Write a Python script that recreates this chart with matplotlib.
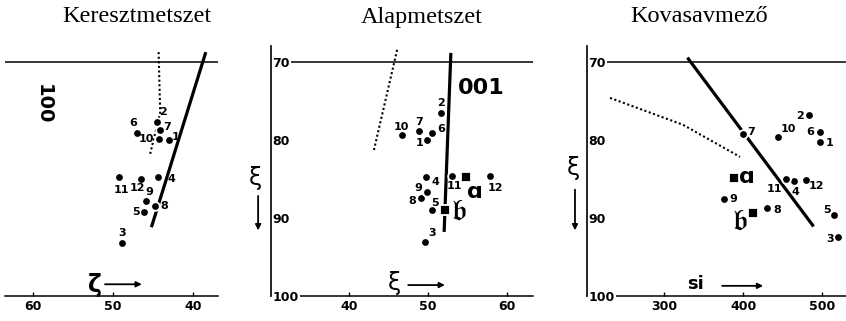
import matplotlib.pyplot as plt

# --- data --------------------------------------------------------------

# Keresztmetszet (zeta horizontal, xi vertical)
cross_labels = ['1', '2', '3', '4', '5', '6', '7', '8', '9', '10', '11', '12']
cross_zeta = [43.0, 44.5, 48.9, 44.4, 46.1, 47.0, 44.1, 44.8, 45.9, 44.3, 49.2, 46.5]
cross_xi = [80.1, 77.8, 93.2, 84.8, 89.3, 79.1, 78.8, 88.5, 87.9, 79.9, 84.8, 85.0]
cross_line_zeta = [38.4, 45.2]
cross_line_xi = [68.8, 91.2]
cross_dots_zeta = [44.3, 44.1, 45.4]
cross_dots_xi = [68.8, 76.5, 82.0]

# Alapmetszet (xi horizontal, xi vertical)
base_labels = ['1', '2', '3', '4', '5', '6', '7', '8', '9', '10', '11', '12']
base_x = [49.9, 51.6, 49.6, 49.75, 50.5, 50.5, 48.9, 49.1, 49.9, 46.75, 53.0, 57.9]
base_y = [80.1, 76.6, 93.1, 84.8, 89.0, 79.1, 78.85, 87.4, 86.7, 79.4, 84.7, 84.7]
base_sq_labels = ['a', 'b']
base_sq_x = [54.8, 52.1]
base_sq_y = [84.8, 89.0]
base_line_x = [52.9, 52.05]
base_line_y = [68.9, 91.8]
base_dots_x = [46.1, 43.1]
base_dots_y = [68.5, 81.6]

# Kovasavmező (si horizontal, xi vertical)
si_labels = ['1', '2', '3', '4', '5', '6', '7', '8', '9', '10', '11', '12']
si_x = [496.6, 482.7, 519.8, 463.7, 514.3, 497.5, 399.6, 430.0, 375.9, 443.9, 454.0, 479.3]
si_y = [80.3, 76.8, 92.5, 85.3, 89.6, 79.0, 79.3, 88.7, 87.6, 79.6, 85.0, 85.1]
si_sq_labels = ['a', 'b']
si_sq_x = [389.0, 412.3]
si_sq_y = [84.9, 89.4]
si_line_x = [329.5, 489.0]
si_line_y = [69.5, 91.1]
si_dots_x = [231.6, 324.0, 396.0]
si_dots_y = [74.65, 78.1, 82.2]

# --- layout ------------------------------------------------------------
W, H = 846, 321
Y_TOP_PX, Y_BOT_PX = 45.9, 296.0


def axes_at(fig, x0, x1):
    return fig.add_axes([x0 / W, 1 - Y_BOT_PX / H, (x1 - x0) / W, (Y_BOT_PX - Y_TOP_PX) / H])


# label offsets in pixels (dx, dy with dy positive = down)
cross_off = {'1': (7, -3), '2': (6, -10), '3': (0, -10), '4': (14, 2), '5': (-8, 0),
             '6': (-4, -10), '7': (7, -3), '8': (10, 0), '9': (4, -9), '10': (-12, 0),
             '11': (2, 13), '12': (-4, 9)}
base_off = {'1': (-8, 3), '2': (0, -10), '3': (7, -9), '4': (9, 5), '5': (3, -7),
            '6': (9, -4), '7': (0, -9), '8': (-9, 3), '9': (-9, -4), '10': (-1, -8),
            '11': (3, 10), '12': (5, 12), 'a': (9, 15), 'b': (14, 1)}
si_off = {'1': (10, 1), '2': (-9, 1), '3': (-8, 2), '4': (2, 11), '5': (-7, -5),
          '6': (-10, 0), '7': (8, -2), '8': (10, 2), '9': (9, 0), '10': (10, -8),
          '11': (-11, 10), '12': (11, 6), 'a': (12, -1), 'b': (-13, 8)}

NUM = dict(family='DejaVu Sans', fontweight='bold', fontsize=8)


def common(ax, xlim, xticks, left_axis):
    ax.set_xlim(*xlim)
    ax.set_ylim(100, 68)
    for s in ['top', 'right', 'bottom']:
        ax.spines[s].set_visible(False)
    ax.spines['left'].set_visible(left_axis)
    ax.spines['left'].set_linewidth(1.2)
    ax.axhline(70, color='black', lw=1.1, zorder=1)
    ax.axhline(100, color='black', lw=1.1, zorder=1, clip_on=False)
    ax.set_xticks(xticks)
    ax.tick_params(axis='x', direction='in', length=3, width=1, pad=3)
    for t in ax.get_xticklabels():
        t.set_fontweight('bold')
        t.set_fontsize(9)
    if left_axis:
        ax.set_yticks([70, 80, 90, 100])
        ax.tick_params(axis='y', length=0, pad=-1)
        for t in ax.get_yticklabels():
            t.set_ha('left')
            t.set_fontweight('bold')
            t.set_fontsize(9)
            t.set_bbox(dict(facecolor='white', edgecolor='none', pad=1))
    else:
        ax.set_yticks([])


def points(ax, xs, ys, labels, offsets, marker='o'):
    ax.plot(xs, ys, linestyle='none', marker=marker, ms=6.2 if marker == 'o' else 7,
            mfc='black', mec='white', mew=1.3, zorder=3)
    for x, y, lab in zip(xs, ys, labels):
        dx, dy = offsets[lab]
        if lab == 'a':
            ax.annotate('ɑ', (x, y), xytext=(dx, -dy), textcoords='offset pixels',
                        ha='center', va='center', fontsize=16, fontweight='bold',
                        family='DejaVu Sans', zorder=4)
        elif lab == 'b':
            ax.annotate(r'$\mathfrak{b}$', (x, y), xytext=(dx, -dy), textcoords='offset pixels',
                        ha='center', va='center', fontsize=21, math_fontfamily='stix', zorder=4)
        else:
            ax.annotate(lab, (x, y), xytext=(dx, -dy), textcoords='offset pixels',
                        ha='center', va='center', zorder=4, **NUM)


def arrow(ax, x0, y0, x1, y1):
    ax.annotate('', xy=(x1, y1), xytext=(x0, y0), annotation_clip=False,
                arrowprops=dict(arrowstyle='-|>', lw=1.3, color='black', mutation_scale=8,
                                shrinkA=0, shrinkB=0))


fig = plt.figure(figsize=(W / 100, H / 100), dpi=100)
fig.patch.set_facecolor('white')

# panel 1
ax1 = axes_at(fig, 5, 218)
common(ax1, (63.5, 36.875), [60, 50, 40], False)
ax1.plot(cross_line_zeta, cross_line_xi, color='black', lw=2.3, solid_capstyle='butt', zorder=2)
ax1.plot(cross_dots_zeta, cross_dots_xi, color='black', lw=1.5, linestyle=(0, (1, 1.2)), zorder=2)
points(ax1, cross_zeta, cross_xi, cross_labels, cross_off)
ax1.text(58.75, 75.4, '100', rotation=-90, ha='center', va='center',
         fontsize=14, fontweight='bold', family='DejaVu Sans')
ax1.text(52.25, 98.6, 'ζ', ha='center', va='center', fontsize=17, fontweight='bold')
arrow(ax1, 51.0, 98.5, 46.4, 98.5)

# panel 2
ax2 = axes_at(fig, 271, 533)
common(ax2, (30.13, 63.3), [40, 50, 60], True)
ax2.plot(base_line_x, base_line_y, color='black', lw=2.3, solid_capstyle='butt', zorder=2)
ax2.plot(base_dots_x, base_dots_y, color='black', lw=1.5, linestyle=(0, (1, 1.2)), zorder=2)
points(ax2, base_x, base_y, base_labels, base_off)
points(ax2, base_sq_x, base_sq_y, base_sq_labels, base_off, marker='s')
ax2.text(56.8, 73.4, '001', ha='center', va='center', fontsize=16, fontweight='bold')
ax2.text(45.8, 98.3, 'ξ', ha='center', va='center', fontsize=17)
arrow(ax2, 47.5, 98.6, 52.15, 98.6)
ax2.text(28.1, 84.9, 'ξ', ha='center', va='center', fontsize=17)
arrow(ax2, 28.5, 87.2, 28.5, 91.6)

# panel 3
ax3 = axes_at(fig, 587, 846)
common(ax3, (202.5, 530), [300, 400, 500], True)
ax3.plot(si_line_x, si_line_y, color='black', lw=2.3, solid_capstyle='butt', zorder=2)
ax3.plot(si_dots_x, si_dots_y, color='black', lw=1.5, linestyle=(0, (1, 1.2)), zorder=2)
points(ax3, si_x, si_y, si_labels, si_off)
points(ax3, si_sq_x, si_sq_y, si_sq_labels, si_off, marker='s')
ax3.text(339.2, 98.5, 'si', ha='center', va='center', fontsize=13, fontweight='bold')
arrow(ax3, 373.4, 98.7, 425.3, 98.7)
ax3.text(184.8, 83.6, 'ξ', ha='center', va='center', fontsize=17)
arrow(ax3, 187.3, 86.4, 187.3, 91.6)

# titles
for cx, title in [(137, 'Keresztmetszet'), (422, 'Alapmetszet'), (699, 'Kovasavmező')]:
    fig.text(cx / W, 1 - 17 / H, title, ha='center', va='center',
             family='Liberation Serif', fontsize=17.5)

fig.savefig('out.png', dpi=100, facecolor='white')
